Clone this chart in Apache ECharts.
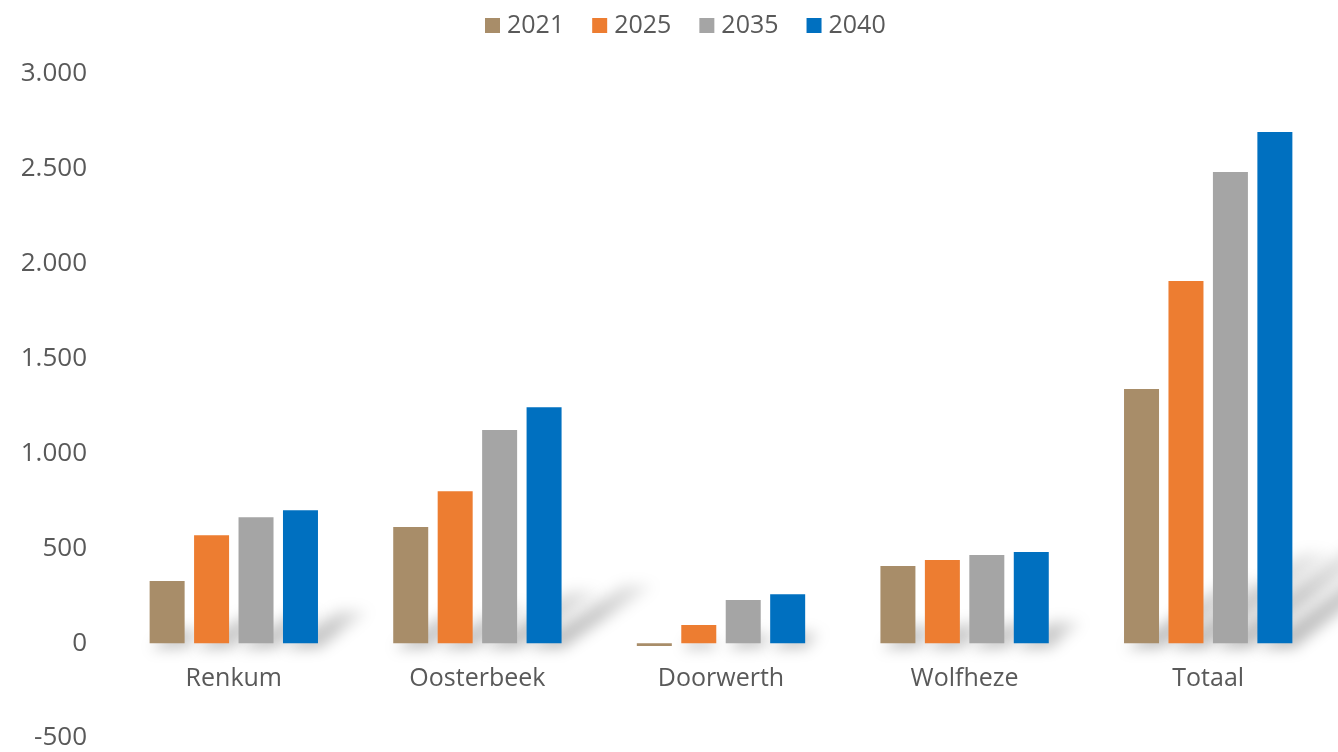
<!DOCTYPE html>
<html>
<head>
<meta charset="utf-8">
<script src="https://cdn.jsdelivr.net/npm/echarts@6/dist/echarts.min.js"></script>
<style>html,body{margin:0;padding:0;background:#fff}#c{width:1338px;height:752px}</style>
</head>
<body>
<div id="c"></div>
<script>
const categories = ['Renkum', 'Oosterbeek', 'Doorwerth', 'Wolfheze', 'Totaal'];
const seriesNames = ['2021', '2025', '2035', '2040'];
const values2021 = [327, 612, -15, 406, 1339];
const values2025 = [569, 801, 95, 438, 1909];
const values2035 = [664, 1123, 227, 464, 2483];
const values2040 = [701, 1244, 258, 480, 2694];
const colors = ['#A88D69', '#ED7D31', '#A5A5A5', '#0070C0'];

const allValues = [values2021, values2025, values2035, values2040];
const fontFam = '"Open Sans", "Noto Sans", sans-serif';
const BAR_W = 35;
const BAR_GAP = 0.27;
const SHIFT = 3000; // draw shape off-canvas, keep only its blurred shadow

// shadow data built from the series arrays: [categoryIndex, value, seriesIndex]
const shadowData = [];
allValues.forEach((arr, k) => arr.forEach((v, i) => shadowData.push([i, v, k])));

function renderShadow(params, api) {
  const ci = api.value(0), v = api.value(1), k = api.value(2);
  const base = api.coord([ci, 0]);
  const top = api.coord([ci, v]);
  const h = base[1] - top[1];
  if (h <= 0) return;
  const step = BAR_W * (1 + BAR_GAP);
  const cx = base[0] + (k - 1.5) * step;
  const x0 = cx - BAR_W / 2 - SHIFT, x1 = cx + BAR_W / 2 - SHIFT;
  const dy = Math.min(0.25 * h, 95);
  const dx = Math.min(0.4 * h, 130);
  const y = base[1];
  return {
    type: 'polygon',
    shape: { points: [[x0 + 2, y + 5], [x1 + 2, y + 5], [x1 + dx, y - dy], [x0 + dx + 4, y - dy]] },
    style: {
      fill: {
        type: 'linear', x: 0, y: 1, x2: 1, y2: 0,
        colorStops: [
          { offset: 0, color: 'rgba(0,0,0,0.28)' },
          { offset: 0.55, color: 'rgba(0,0,0,0.2)' },
          { offset: 1, color: 'rgba(0,0,0,0.05)' }
        ]
      },
      shadowBlur: 14,
      shadowOffsetX: SHIFT,
      shadowOffsetY: 0,
      shadowColor: 'rgba(0,0,0,1)'
    }
  };
}

const chart = echarts.init(document.getElementById('c'));
chart.setOption({
  animation: false,
  textStyle: { fontFamily: fontFam },
  legend: {
    top: 8,
    left: 480,
    icon: 'rect',
    itemWidth: 15,
    itemHeight: 15,
    itemGap: 28,
    textStyle: { fontSize: 25, color: '#595959', fontFamily: fontFam, padding: [0, 0, 0, 2] },
    data: seriesNames
  },
  grid: { left: 112, right: 8, top: 74, bottom: 14, containLabel: false, outerBoundsMode: 'none' },
  xAxis: {
    type: 'category',
    data: categories,
    offset: -95,
    axisLine: { show: false, onZero: false },
    axisTick: { show: false },
    axisLabel: { fontSize: 25, color: '#595959', margin: 23, fontFamily: fontFam }
  },
  yAxis: {
    type: 'value',
    min: -500,
    max: 3000,
    interval: 500,
    splitLine: { show: false },
    axisLine: { show: false },
    axisTick: { show: false },
    axisLabel: {
      fontSize: 26, color: '#595959', margin: 25, fontFamily: fontFam,
      formatter: v => v.toLocaleString('de-DE')
    }
  },
  series: [{
    type: 'custom',
    name: 'shadow',
    z: 1,
    silent: true,
    clip: false,
    renderItem: renderShadow,
    data: shadowData,
    encode: { x: 0, y: 1 }
  }].concat(seriesNames.map((n, i) => ({
    name: n,
    type: 'bar',
    z: 2,
    data: allValues[i],
    barWidth: BAR_W,
    barGap: (BAR_GAP * 100) + '%',
    itemStyle: { color: colors[i] }
  })))
});
</script>
</body>
</html>
